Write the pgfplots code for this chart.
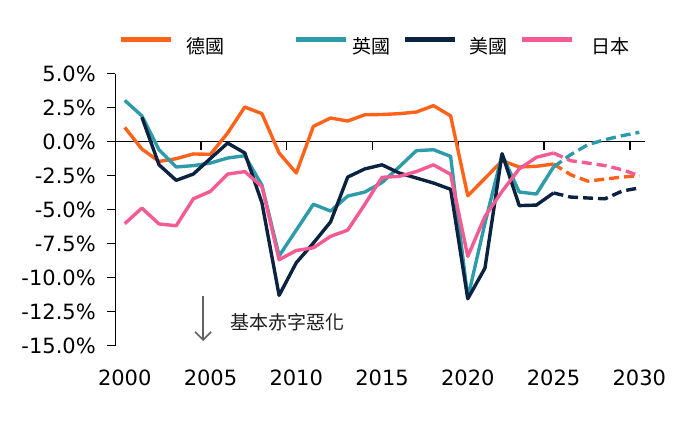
\documentclass[border=0pt]{standalone}
\usepackage{fontspec}
\setmainfont{DejaVu Sans}
\newfontfamily\cjk{Noto Sans CJK TC}
\usepackage{pgfplots}
\pgfplotsset{compat=1.18}
\usetikzlibrary{arrows.meta}

\definecolor{deu}{HTML}{FF6319}
\definecolor{gbr}{HTML}{2D9BAA}
\definecolor{usa}{HTML}{0B2240}
\definecolor{jpn}{HTML}{F45B93}

\pgfplotstableread{
year val
2000 1.05
2001 -0.54
2002 -1.45
2003 -1.25
2004 -0.90
2005 -0.93
2006 0.64
2007 2.55
2008 2.06
2009 -0.83
2010 -2.30
2011 1.13
2012 1.74
2013 1.52
2014 1.98
2015 2.00
2016 2.06
2017 2.18
2018 2.65
2019 1.90
2020 -3.97
2021 -2.70
2022 -1.40
2023 -1.86
2024 -1.81
2025 -1.64
}\deu

\pgfplotstableread{
year val
2025 -1.64
2026 -2.43
2027 -2.90
2028 -2.75
2029 -2.60
2030 -2.50
}\deuproj

\pgfplotstableread{
year val
2000 3.04
2001 1.90
2002 -0.60
2003 -1.86
2004 -1.76
2005 -1.57
2006 -1.20
2007 -1.03
2008 -3.20
2009 -8.40
2010 -6.50
2011 -4.60
2012 -5.10
2013 -4.00
2014 -3.70
2015 -3.00
2016 -1.86
2017 -0.66
2018 -0.59
2019 -1.08
2020 -11.50
2021 -6.00
2022 -0.95
2023 -3.70
2024 -3.85
2025 -1.86
}\gbr

\pgfplotstableread{
year val
2025 -1.86
2026 -0.95
2027 -0.22
2028 0.15
2029 0.44
2030 0.69
}\gbrproj

\pgfplotstableread{
year val
2001 1.80
2002 -1.70
2003 -2.84
2004 -2.38
2005 -1.23
2006 -0.10
2007 -0.83
2008 -4.50
2009 -11.30
2010 -8.90
2011 -7.45
2012 -5.90
2013 -2.60
2014 -2.00
2015 -1.70
2016 -2.30
2017 -2.67
2018 -3.04
2019 -3.50
2020 -11.55
2021 -9.30
2022 -0.88
2023 -4.70
2024 -4.66
2025 -3.77
}\usa

\pgfplotstableread{
year val
2025 -3.77
2026 -4.07
2027 -4.14
2028 -4.20
2029 -3.63
2030 -3.40
}\usaproj

\pgfplotstableread{
year val
2000 -6.03
2001 -4.88
2002 -6.05
2003 -6.18
2004 -4.20
2005 -3.65
2006 -2.38
2007 -2.20
2008 -3.30
2009 -8.68
2010 -8.00
2011 -7.80
2012 -6.96
2013 -6.50
2014 -4.60
2015 -2.62
2016 -2.55
2017 -2.20
2018 -1.70
2019 -2.40
2020 -8.43
2021 -5.50
2022 -3.65
2023 -2.00
2024 -1.15
2025 -0.83
}\jpn

\pgfplotstableread{
year val
2025 -0.83
2026 -1.40
2027 -1.57
2028 -1.76
2029 -2.06
2030 -2.50
}\jpnproj

\begin{document}
\begin{tikzpicture}
\begin{axis}[
    scale only axis,
    width=530pt, height=272pt,
    xmin=1999.45, xmax=2030.35,
    ymin=-15, ymax=5,
    axis y line=left, axis x line=bottom,
    axis line style={-},
    x axis line style={draw=none},
    y axis line style={line width=1.3pt, black},
    xtick={2000,2005,...,2030},
    xticklabels={2000,2005,2010,2015,2020,2025,2030},
    major x tick style={draw=none},
    ytick={-15,-12.5,...,5},
    yticklabels={-15.0\%,-12.5\%,-10.0\%,-7.5\%,-5.0\%,-2.5\%,0.0\%,2.5\%,5.0\%},
    tick align=outside,
    major tick length=8pt,
    y tick style={line width=1.3pt, black},
    tick label style={font=\fontsize{21}{25}\selectfont},
    xticklabel style={yshift=-13pt},
    yticklabel style={xshift=-8pt},
    clip=false,
    legend columns=4,
    legend image code/.code={\draw[#1, line width=4.2pt] (2pt,6.5pt) -- (52pt,6.5pt);},
    legend image post style={line width=4.2pt},
    legend style={draw=none, fill=none, inner sep=0pt,
        at={(rel axis cs:0,1)}, anchor=west, xshift=3pt, yshift=27.7pt,
        font=\cjk\fontsize{19}{22}\selectfont,
        nodes={inner sep=0pt},
        /tikz/column 1/.style={column sep=14pt},
        /tikz/column 2/.style={column sep=69pt},
        /tikz/column 3/.style={column sep=5pt},
        /tikz/column 4/.style={column sep=12pt},
        /tikz/column 5/.style={column sep=12pt},
        /tikz/column 6/.style={column sep=13pt},
        /tikz/column 7/.style={column sep=17pt}},
    every axis plot/.append style={line width=3.4pt, line join=round},
]

% zero line with its ticks
\draw[line width=1.3pt, black] (axis cs:1999.45,0) -- (axis cs:2030.35,0);
\draw[line width=1.3pt, black] (axis cs:2004.45,0) -- ++(0pt,-8pt);
\draw[line width=1.3pt, black] (axis cs:2009.45,0) -- ++(0pt,-8pt);
\draw[line width=1.3pt, black] (axis cs:2014.45,0) -- ++(0pt,-8pt);
\draw[line width=1.3pt, black] (axis cs:2019.45,0) -- ++(0pt,-8pt);
\draw[line width=1.3pt, black] (axis cs:2024.45,0) -- ++(0pt,-8pt);
\draw[line width=1.3pt, black] (axis cs:2029.45,0) -- ++(0pt,-8pt);

\addplot[deu] table[x=year, y=val] {\deu};
\addplot[gbr] table[x=year, y=val] {\gbr};
\addplot[usa] table[x=year, y=val] {\usa};
\addplot[jpn] table[x=year, y=val] {\jpn};

\addplot[deu, dash pattern=on 10pt off 5pt, forget plot] table[x=year, y=val] {\deuproj};
\addplot[gbr, dash pattern=on 10pt off 5pt, forget plot] table[x=year, y=val] {\gbrproj};
\addplot[usa, dash pattern=on 10pt off 5pt, forget plot] table[x=year, y=val] {\usaproj};
\addplot[jpn, dash pattern=on 10pt off 5pt, forget plot] table[x=year, y=val] {\jpnproj};

\legend{德國,英國,美國,日本}

% annotation
\draw[-{Straight Barb[length=8pt,width=16pt]}, line width=1.6pt, black!62]
    (axis cs:2004.57,-11.35) -- (axis cs:2004.57,-14.65);
\node[anchor=west, inner sep=0pt, font=\cjk\fontsize{19}{22}\selectfont, text=black!88]
    at (axis cs:2006.15,-13.26) {基本赤字惡化};

\coordinate (o) at (rel axis cs:0,0);
\end{axis}
\pgfresetboundingbox
\path[use as bounding box] ([shift={(-115.3pt,-89.3pt)}]o) rectangle ([shift={(574.7pt,345.7pt)}]o);
\end{tikzpicture}
\end{document}
